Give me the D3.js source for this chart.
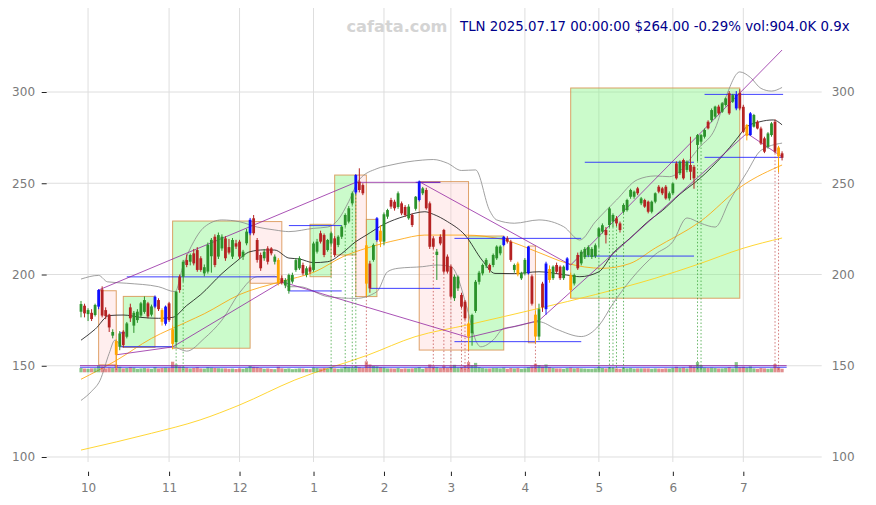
<!DOCTYPE html>
<html><head><meta charset="utf-8">
<script src="https://cdn.jsdelivr.net/npm/d3@7"></script>
<style>body{margin:0;background:#fff}svg{display:block}</style>
</head><body>
<svg id="c" width="876" height="505"></svg>
<script>
// ---------------- DATA ----------------
const ticker = "TLN";
const startDate = "2024-09-27";
const holidays = ["2024-11-28","2024-12-25","2025-01-01","2025-01-09","2025-01-20","2025-02-17","2025-04-18","2025-05-26","2025-06-19","2025-07-04"];
const yTicks = [100,150,200,250,300];
const lastVolRatio = 0.9;

const opens = [179.6,182.9,178.3,179,177.8,182.4,191.8,180.5,178,166.5,
163.5,160.4,168.7,165.9,182,172,175,177.5,179.5,184.2,
178,182.4,186,180.5,173,184.2,170,163,198.8,198.8,
207.9,207,211.6,213.4,208.9,200.6,201.6,210,220.7,209.8,
214.3,219.8,215,209.8,217.1,218,209.8,217.1,222.6,230.8,
218.9,210.7,208.9,214.3,214.3,207,208,198,194,191,
196.1,202.5,203.4,205.2,199.7,203.9,202.5,212.5,222.6,221.6,
213.4,217,219.8,216.2,220.7,227.1,229,239,245,250.9,
249,216,206,208,218.9,224,218,231.7,240.8,239.9,
237,239,237,230.8,232.6,236,240.8,244.5,246.3,239,
219.8,210.7,220.7,224.4,209.8,204.3,187,192.4,188.8,185.1,
173.2,167.8,180,196,200.6,205,205.2,205.2,208.9,211.6,
216.2,219.8,218,202.5,206,197.9,200.6,200.6,199,178,
166,195,181,203,198,205.2,204.3,198,202.5,199.7,
195.1,210.7,206.1,209.5,210.5,209.6,210,220.7,223.5,224.4,
227.1,229,230.8,228,234.4,235.3,242.6,242.6,247.2,239,
240.8,239.9,234.4,239.9,248.1,247.2,248.1,241.7,244.5,260.9,
255.5,262.7,257.3,260,259,271,272.8,275.5,283.7,284.6,
286.5,292,289.2,292.9,299.3,294.7,291,299.5,291.9,276,
276.4,281,283.7,280,274.6,270,276.4,283.7,269.6,266.4];
const highs = [185.5,184,181.5,181,184,192,193.5,182,178.5,170,
164.5,169,169.5,174,184,180,181,185,188,185,
183.5,188.5,187,181.5,183,185,172,191,200,208,
211,211.5,214,215,210,205.5,217.5,220,222,223,
222,221,219.5,220,219,219,213.5,225,231,232.6,
220,212,214,215.5,215,211,209,199.5,198,200.5,
201,209,210,206.5,204.5,205,218,219.5,224,222.5,
219.5,223.5,221,221.5,227,233.5,237.5,245.5,255,258.2,
250,218.5,207.5,217,231.5,227,234,236,242,241,
245.5,240,238,238.5,233.5,243,251.5,248,247.5,240,
221,214,222,225,211,205.5,200,199.5,190,186,
174,178.5,197,202,206,209,206,211.5,216,216,
221.1,221,219,206,207,201.5,209,215.6,200,180,
184,196,207,205,205,206.5,205,205,209.5,201,
200.5,212,213.5,215,216,215,217,226,228,226,
237,233.5,232,229,239,241.5,247,246,248,242.5,
241.5,240.5,240.5,245,249,248,249,245.5,250.5,262,
262.5,263.5,262.5,275.5,260,277,277,280,284.5,291,
292.5,293,294.5,297,300.5,299,300.5,301.5,293,282.5,
289,288,284.5,281,275.5,278,283.5,285,270.5,267.5];
const lows = [176.5,176.5,174.5,174.5,177,181,176.5,175.5,168.5,165,
148.5,158.5,160,165,174,168,173.5,176.5,178.5,176,
177,181.5,180,172,172,174,159,161,190,196,
204,205,205,201.5,201.5,199,200.5,201,204,208.5,
213,207.5,211,208.5,214,208.5,208,216,221.5,221.5,
206.5,202,207.5,205.5,210.5,205.5,194,194.5,192.5,189.5,
195,201.5,202.5,199.5,198.5,200.5,201.5,211.5,217,209.5,
212.5,216,209.5,215,219.5,226,228,238,244,245,
243.5,188,190,207,218,215,216,230.5,236,235,
236,232.5,231.5,230,226,235,240,243.5,235.5,214,
214,197,216,200.5,200.5,187,185.5,191,181.5,175,
158.6,161,179,194.5,199.5,203.5,201,204,208,210.5,
215.5,217,207,201,199,197,199.5,200,183,162.6,
164,179.5,178,195.5,197,200.5,197,197,202,187,
194,202.5,205,208.5,209.5,208.5,209,215,222.5,217,
226,226,226.5,223,233.5,234.5,241.5,241.5,243.5,238,
236.5,233.5,233.5,239,244.5,243.5,241,240.5,243.5,252,
254.5,252,256,251.8,247,262,271.5,274.5,279.5,283.5,
285.5,287.5,288.5,292,287.5,294,290,290,277.5,273.5,
276,280.5,279.5,271,266.5,269,275.5,266.5,256,262.5];
const closes = [183.8,178.7,180.5,175.6,183.3,191.5,177.5,177.2,171,168.5,
156,167.7,161.3,173.2,176,179,179.6,184.2,186,177,
182.5,187.8,181,174.1,182.4,175,162,190.6,191.5,207,
205.2,210.7,206.1,202.5,202.5,204,216.2,219,205.2,221.6,
220.7,208.9,212,218.9,215.3,209.8,212.5,223.5,230,222.6,
208,203.4,212.5,207,211.6,209.8,195.2,195.5,197,199.7,
199.7,207.9,208.9,200.6,203.4,201.6,217,218,218,210.7,
218.9,222.6,210.7,220.7,226.2,232.6,236.3,244.5,254.5,246.3,
244.5,195,192.4,216.2,230.8,218,233,235.3,237.2,236.3,
244.5,233.5,232.6,237.2,227.1,242.6,250.9,247.2,236.3,215.2,
215.2,212.5,217,201.6,201.6,187.9,198.8,198.8,182.4,176,
166,177.8,196,201,205.2,208,202.5,210.7,215.3,215.3,
220.7,218,208,205.2,200,200.6,208,215.3,184,166,
181,182,206,197,204.3,201.5,198,204.3,208.8,191.5,
199.7,203.4,212.5,214,215,214,216,225.3,227,221.6,
236.2,232.6,228,224.4,238.1,240.8,246.3,245.4,244.5,241.7,
237.2,234.4,239.9,244.5,245.4,244.5,241.7,244.5,249.9,252.7,
261.8,252.7,261.8,256.3,252.7,276.4,276.4,279.2,280.1,290.1,
292,288.3,293.8,296.5,288.3,298.3,298.4,291,278.2,281.9,
288.3,287.4,280,271.8,267.3,277.3,282.8,267.3,264.77,264];
const volumesK = [1100,950,900,1000,1050,1700,1500,1000,1200,1100,
1900,1400,1000,1100,1300,1200,900,1000,1100,1000,
900,1300,1000,1100,1200,1100,2700,2000,1500,1400,
1200,1000,1100,1300,1000,950,1300,1200,1100,1050,
1000,1000,900,950,850,1000,900,1100,1600,1400,
1300,1100,900,1000,850,800,1400,1000,900,1000,
800,900,1000,950,850,800,1200,1100,1000,1100,
950,1300,1000,900,1000,1400,1300,1200,1500,1300,
1100,2800,2000,1600,1500,1300,1200,1000,1000,950,
1100,900,1000,950,1000,1100,1300,900,1200,2000,
1500,1300,1100,1600,1200,1500,1900,1200,1400,1600,
2600,1800,2400,1300,1100,1000,1000,1100,1100,1000,
1200,900,1100,1000,1100,900,1000,1300,1500,2200,
1800,1500,2000,1300,1100,1000,1000,900,1100,1200,
1000,1100,1000,950,900,900,1000,1300,1100,1000,
1300,1100,1000,900,1200,1000,1100,950,1000,1000,
1000,1000,900,1000,950,900,1000,950,1100,1400,
1100,1200,1000,1700,1500,2600,1800,1200,1100,1200,
1100,1000,1000,1100,1300,1000,2600,1300,1400,1200,
1500,1000,900,1100,1000,900,1000,2100,1300,904];
const blueCandles = [5,21,24,48,78,84,96,120,127,132,138,186,190];
const orangeCandles = [10,23,26,56,81,85,110,124,129,133,139,189,198];
const greenMarkers = [27,29,71,75,77,78,147,150,151,152,154,175,176];
const redMarkers = [10,81,100,103,105,108,109,110,129,197,198];

// indicator lines, read as [trading-day index, price]
const sma20 = [[0,164],[4,170],[8,177.5],[12,177.8],[17,176.5],[22,176],[26,176.5],[30,183],[34,189],[40,200.5],[44,207],[48,212.5],[52,213.5],[55,213.4],[59,209],[62,208.5],[66,206.5],[70,207],[74,211.5],[78,218],[81,221.6],[86,227.5],[92,232],[97.6,234.4],[100,233],[104,229],[109,221.6],[114,207.5],[117.5,200.6],[123,200.5],[130,201.5],[137.9,199.7],[141.6,198.8],[147,201.5],[151,211.6],[155.8,219.8],[161.5,229.9],[165,235],[170,244],[175.7,252.7],[182.3,265.5],[186,274],[189,281],[192.7,283.7],[196.5,284.7],[199,282]];
const sma50 = [[0,142.6],[10,152.9],[20,165],[30,174],[35,178.5],[45,189],[56.5,196],[66.4,201.5],[74.4,209.8],[81,214.4],[90,219],[97.6,221.6],[109,221.6],[120.3,218.9],[130,212],[137.9,206.2],[148,203.4],[155.8,206],[163,214.5],[175.7,228.9],[188,249],[199,260]];
const sma200 = [[0,103.8],[20,113],[33.8,120.3],[45,128.5],[60.7,142.2],[81.5,155.9],[94.8,165.9],[110,172.5],[130.3,181.6],[146,189],[162.9,197.9],[175,205.5],[188,214.4],[199,220]];
const bbUpper = [[0,197.5],[5,199.5],[7.5,196],[13,195.2],[22,193.3],[26.7,190.6],[29,205],[32,218],[35,226],[40,229.9],[45,228.9],[50,226],[55,224.4],[59,223.5],[66,225.3],[70,226],[73,230],[76,240],[79,252],[84,258],[88,260],[97,262.7],[100,263],[104,261],[108,257],[112,257.3],[116,235],[118,229.9],[123,228.1],[130,229.9],[137,226.2],[141.6,218.9],[146,228.9],[152,240.8],[158,252],[163,254],[167,253.6],[175.7,270],[180,280],[183,297],[187,311],[190,308],[193,302],[196,300.5],[199,302.5]];
const bbLower = [[0,131],[3,136],[5.4,142],[8,156.8],[9.6,164],[12,160.4],[20,160.4],[26,160.4],[30,158],[35,165],[40,175],[45,190],[50,198.8],[55,199],[59,193.3],[62,193.3],[70,187.9],[78,186.9],[84,190.6],[87,201.5],[90,203.4],[97,204.3],[101,205.2],[105,204.3],[110,178.7],[112,164.1],[113.5,160.4],[117,164.1],[120,170.5],[123,171.4],[130,174.1],[135,170],[142,166],[147,172],[151,184],[156,197],[163,211],[168,218],[172,231],[176,228],[180,226],[184,240],[189,256],[193,268],[199,272]];

// boxes: [fromIndex, toIndex, lowPrice, highPrice, kind]
const boxes = [[5,10,150.5,191.1,"down"],[12,21,160,188,"up"],[26,48,159.6,229.3,"up"],[48,57,195.2,229,"down"],
[65,71,198.8,227.5,"up"],[72,78,210.7,254.5,"up"],[78,81,187.9,254.5,"down"],[81,84,187.9,230.2,"up"],
[96,110,158.6,250.9,"down"],[110,120,158.6,221.1,"up"],[127,129,162.6,215.6,"down"],[139,187,187,302.2,"up"]];
// horizontal levels: [fromIndex, toIndex, price]
const blueLevels = [[13,56,198.7],[11,12.5,168],[11,26,160.4],[59,74,226.8],[59,74,191],[95,102,250.5],[82,102,192.4],
[106,142,219.8],[106,142,163.2],[143,174,261.5],[143,174,210.1],[177,199.3,298.7],[177,199.3,264.2],[-0.3,200.3,149.2]];
// trend lines: [i0, p0, i1, p1]
const trendLines = [[5,191.5,78,250.5],[78,250.5,102,250.5],[10,156,26,160.3],[26,160.3,57,196],[57,196,110,165.5],
[96,250.9,139,205.2],[110,165.5,130,174.8],[130,174.8,189,277.4],[139,205.2,199,323],[189,277.4,199,264.5],[-0.3,150.1,200.3,150.1]];

// ---------------- CHART ----------------
const svg = d3.select("#c");
const FONT = "DejaVu Sans, sans-serif";
const x = d3.scaleLinear().domain([-9.74, 210.25]).range([46.7, 821.7]);
const y = d3.scaleLinear().domain([97.26, 346.03]).range([462, 8]);
const vScale = d3.scaleLinear().domain([0, d3.max(volumesK)]).range([0, 11]);
const volBase = 372.3;

function tradingDays(n){
  const out=[]; const d=new Date(startDate+"T12:00:00Z");
  while(out.length<n){
    const wd=d.getUTCDay(), s=d.toISOString().slice(0,10);
    if(wd!==0 && wd!==6 && !holidays.includes(s)) out.push(s);
    d.setUTCDate(d.getUTCDate()+1);
  }
  return out;
}
const dates = tradingDays(closes.length);
const monthTicks = [];
dates.forEach((s,i)=>{ if(i>0 && s.slice(5,7)!==dates[i-1].slice(5,7)) monthTicks.push(i); });

// grid
const grid = svg.append("g");
grid.selectAll(".hg").data(yTicks).join("line")
  .attr("x1",46.7).attr("x2",821.7).attr("y1",d=>y(d)).attr("y2",d=>y(d))
  .attr("stroke","#dedede").attr("stroke-width",1);
grid.selectAll(".vg").data(monthTicks).join("line")
  .attr("x1",d=>x(d)).attr("x2",d=>x(d)).attr("y1",8).attr("y2",462)
  .attr("stroke","#dedede").attr("stroke-width",1);

// boxes
svg.append("g").selectAll("rect").data(boxes).join("rect")
  .attr("x",d=>x(d[0])).attr("width",d=>x(d[1])-x(d[0]))
  .attr("y",d=>y(d[3])).attr("height",d=>y(d[2])-y(d[3]))
  .attr("fill",d=>d[4]==="up"?"rgba(130,245,130,0.42)":"rgba(255,200,200,0.3)")
  .attr("stroke","rgba(215,140,70,0.8)").attr("stroke-width",1);

// indicator lines
const ln = d3.line().x(d=>x(d[0])).y(d=>y(d[1])).curve(d3.curveMonotoneX);
function drawLine(data,color,w,op){
  svg.append("path").datum(data).attr("d",ln).attr("fill","none")
    .attr("stroke",color).attr("stroke-width",w).attr("opacity",op);
}
drawLine(sma200,"#ffd21f",1,0.9);
drawLine(sma50,"#ffa000",1,0.8);
drawLine(bbUpper,"#8a8a8a",0.9,0.9);
drawLine(bbLower,"#8a8a8a",0.9,0.9);
drawLine(sma20,"#111",0.9,0.9);

// volume
const volG = svg.append("g");
volG.selectAll("rect").data(volumesK).join("rect")
  .attr("x",(d,i)=>x(i)-1.6).attr("width",3.2)
  .attr("y",d=>volBase - vScale(d)).attr("height",d=>vScale(d))
  .attr("fill",(d,i)=>closes[i]>=opens[i]?"rgba(40,150,40,0.55)":"rgba(200,50,50,0.55)");

// blue levels
svg.append("g").selectAll("line").data(blueLevels).join("line")
  .attr("x1",d=>x(d[0])).attr("x2",d=>x(d[1])).attr("y1",d=>y(d[2])).attr("y2",d=>y(d[2]))
  .attr("stroke","#2020ff").attr("stroke-width",1).attr("opacity",0.85);
// trend lines
svg.append("g").selectAll("line").data(trendLines).join("line")
  .attr("x1",d=>x(d[0])).attr("y1",d=>y(d[1])).attr("x2",d=>x(d[2])).attr("y2",d=>y(d[3]))
  .attr("stroke","#8e1a9e").attr("stroke-width",1).attr("opacity",0.75);

// marker dotted lines
const mk = svg.append("g");
function markers(list,color){
  mk.selectAll(null).data(list).join("line")
    .attr("x1",d=>x(d)).attr("x2",d=>x(d)).attr("y1",d=>y(lows[d])).attr("y2",370)
    .attr("stroke",color).attr("stroke-width",1).attr("stroke-dasharray","1.5,2").attr("opacity",0.7);
}
markers(greenMarkers,"#2a9a2a");
markers(redMarkers,"#c04040");

// candles
function candleColor(i){
  if(blueCandles.includes(i)) return "#1010ff";
  if(orangeCandles.includes(i)) return "#ffa500";
  return closes[i]>=opens[i] ? "#2b922b" : "#b52222";
}
const cg = svg.append("g");
const idx = d3.range(closes.length);
cg.selectAll(".w").data(idx).join("line")
  .attr("x1",i=>x(i)).attr("x2",i=>x(i)).attr("y1",i=>y(highs[i])).attr("y2",i=>y(lows[i]))
  .attr("stroke",candleColor).attr("stroke-width",1);
cg.selectAll(".b").data(idx).join("rect")
  .attr("x",i=>x(i)-1.4).attr("width",2.8)
  .attr("y",i=>y(Math.max(opens[i],closes[i])))
  .attr("height",i=>Math.max(1,Math.abs(y(opens[i])-y(closes[i]))))
  .attr("fill",candleColor);

// axes
const axL = svg.append("g").attr("transform","translate(46.7,0)")
  .call(d3.axisLeft(y).tickValues(yTicks).tickSize(5).tickPadding(6.7));
const axR = svg.append("g").attr("transform","translate(821.7,0)")
  .call(d3.axisRight(y).tickValues(yTicks).tickSize(0).tickPadding(10));
const axB = svg.append("g").attr("transform","translate(0,471.7)")
  .call(d3.axisBottom(x).tickValues(monthTicks).tickSize(4.3).tickPadding(7.6)
    .tickFormat(i=>String(+dates[i].slice(5,7))));
[axL,axR,axB].forEach(a=>{
  a.select(".domain").remove();
  a.selectAll("text").attr("fill","#7a7a7a").style("font-family",FONT).style("font-size","12px");
  a.selectAll("line").attr("stroke","#222");
});

// watermark and title
svg.append("text").attr("x",346.5).attr("y",31.5).text("cafata.com")
  .style("font-family",FONT).style("font-weight","bold").style("font-size","16.2px").attr("fill","#d4d4d4");
const last = closes.length-1;
const chg = (closes[last]/closes[last-1]-1)*100;
const d0 = dates[last].replace(/-/g,".");
svg.append("text").attr("x",460).attr("y",30.5)
  .text(`${ticker} ${d0} 00:00:00 $${closes[last].toFixed(2)} ${chg.toFixed(2)}% vol:${volumesK[last].toFixed(1)}K ${lastVolRatio.toFixed(1)}x`)
  .style("font-family",FONT).style("font-size","13.33px").attr("fill","#00008b");
</script>
</body></html>
